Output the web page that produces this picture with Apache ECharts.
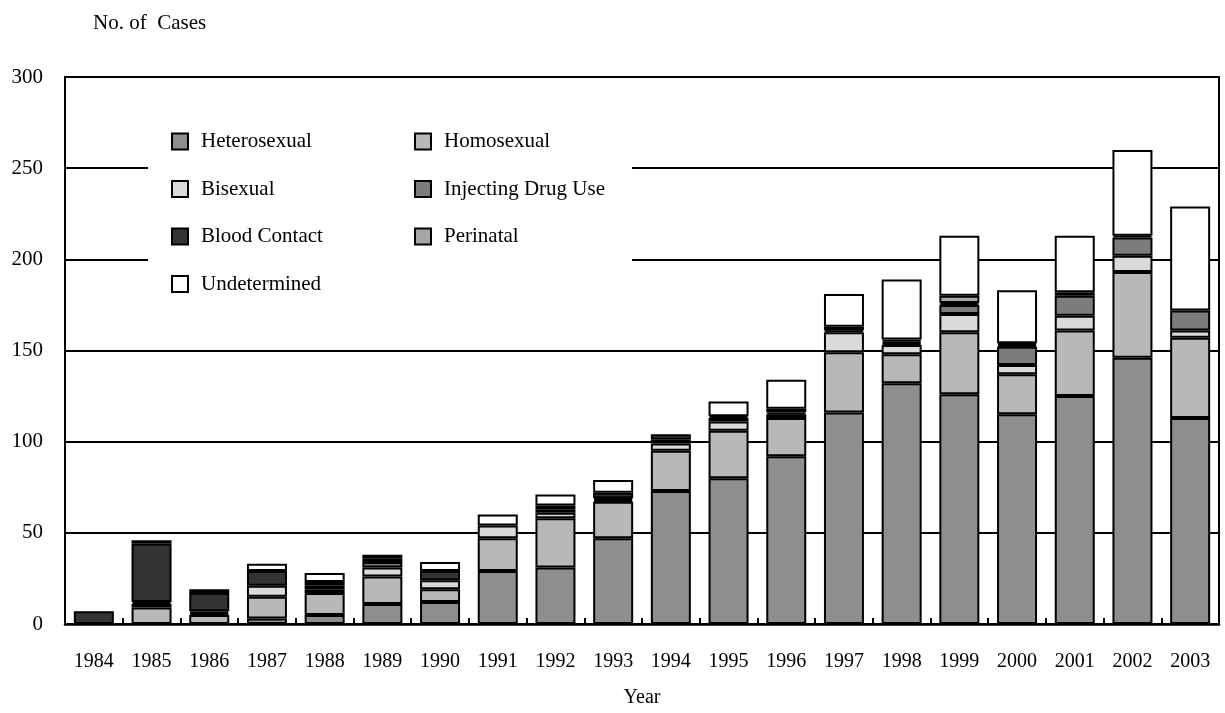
<!DOCTYPE html>
<html>
<head>
<meta charset="utf-8">
<script src="https://cdn.jsdelivr.net/npm/echarts@6/dist/echarts.min.js"></script>
<style>
html,body{margin:0;padding:0;background:#fff;}
#c{width:1225px;height:713px;}
</style>
</head>
<body>
<div id="c"></div>
<script>
const years = ['1984','1985','1986','1987','1988','1989','1990','1991','1992','1993','1994','1995','1996','1997','1998','1999','2000','2001','2002','2003'];
const heterosexual = [0,0,0,3,5,11,12,29,31,47,73,80,92,116,132,126,115,125,146,113];
const homosexual   = [0,9,5,12,12,15,7,18,27,20,22,26,21,33,16,34,22,36,47,44];
const bisexual     = [0,2,1,6,2,5,5,7,3,1,4,5,2,11,5,10,5,8,9,4];
const injectingDrugUse = [0,1,1,0,2,3,0,0,2,1,2,2,1,1,1,5,10,11,10,11];
const bloodContact = [7,32,10,8,2,2,5,0,2,3,3,1,2,2,1,1,1,0,1,0];
const perinatal    = [0,0,0,0,0,0,0,0,0,0,0,0,0,0,1,4,1,2,0,0];
const undetermined = [0,2,2,4,5,2,5,6,6,7,0,8,16,18,33,33,29,31,47,57];
const yTicks = [0,50,100,150,200,250,300];

const FONT = '"Liberation Serif","DejaVu Serif",serif';
const seriesDefs = [
  {name:'Heterosexual', data:heterosexual, color:'#8e8e8e'},
  {name:'Homosexual', data:homosexual, color:'#b8b8b8'},
  {name:'Bisexual', data:bisexual, color:'#dadada'},
  {name:'Injecting Drug Use', data:injectingDrugUse, color:'#7c7c7c'},
  {name:'Blood Contact', data:bloodContact, color:'#333333'},
  {name:'Perinatal', data:perinatal, color:'#a6a6a6'},
  {name:'Undetermined', data:undetermined, color:'#ffffff'}
];

const legendText = {fontFamily:FONT, fontSize:21, color:'#000', lineHeight:16, padding:[0,0,0,8]};
const chart = echarts.init(document.getElementById('c'), null, {renderer:'canvas'});
chart.setOption({
  animation:false,
  backgroundColor:'#fff',
  title:{text:'No. of  Cases', left:88, top:8, textStyle:{fontFamily:FONT, fontSize:21, fontWeight:'normal', color:'#000'}},
  graphic:[{type:'rect', z:3, shape:{x:148, y:112, width:484, height:166}, style:{fill:'#fff'}}],
  legend:[
    {data:['Heterosexual','Bisexual','Blood Contact','Undetermined'], orient:'vertical', left:171, top:131, padding:0,
     icon:'rect', itemWidth:16, itemHeight:16, itemGap:26.5, z:6, selectedMode:false, textStyle:legendText},
    {data:['Homosexual','Injecting Drug Use','Perinatal'], orient:'vertical', left:414, top:131, padding:0,
     icon:'rect', itemWidth:16, itemHeight:16, itemGap:26.5, z:6, selectedMode:false, textStyle:legendText}
  ],
  grid:{left:65, right:6, top:77, bottom:86, show:true, borderColor:'#000', borderWidth:2, backgroundColor:'transparent'},
  xAxis:{type:'category', data:years,
    name:'Year', nameLocation:'middle', nameGap:64,
    nameTextStyle:{fontFamily:FONT, fontSize:20, color:'#000'},
    axisLine:{lineStyle:{color:'#000', width:2.5}},
    axisTick:{show:true, inside:true, length:6, lineStyle:{color:'#000', width:2}},
    axisLabel:{fontFamily:FONT, fontSize:20, color:'#000', margin:28, interval:0}
  },
  yAxis:{type:'value', min:yTicks[0], max:yTicks[yTicks.length-1], interval:50,
    axisLine:{show:true, lineStyle:{color:'#000', width:2}},
    axisTick:{show:false},
    splitLine:{show:true, lineStyle:{color:'#000', width:2}},
    axisLabel:{fontFamily:FONT, fontSize:21, color:'#000', margin:22}
  },
  series: seriesDefs.map(s => ({
    name:s.name, type:'bar', stack:'total', barWidth:40, z:2,
    data:s.data.map(v => v === 0 ? '-' : v),
    itemStyle:{color:s.color, borderColor:'#000', borderWidth:2},
    emphasis:{disabled:true}
  }))
});
</script>
</body>
</html>
